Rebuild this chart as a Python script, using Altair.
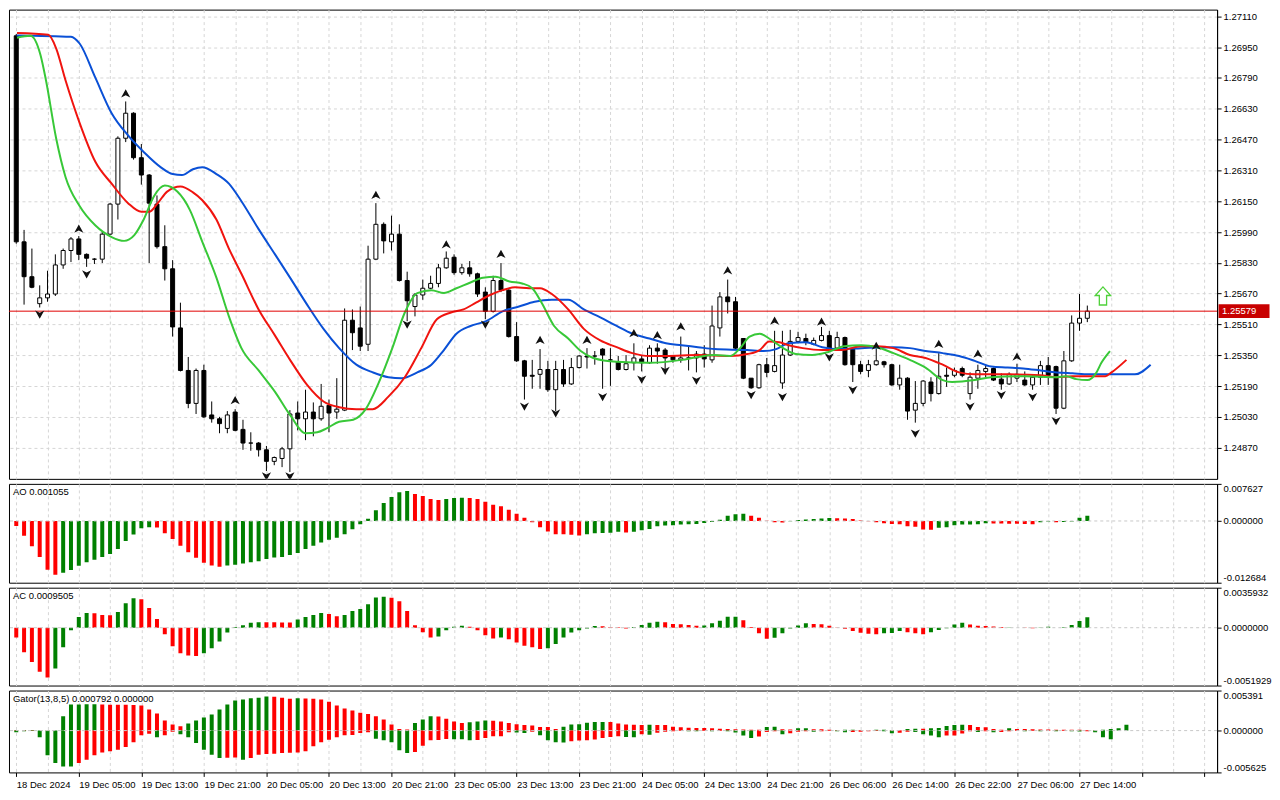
import json
import pandas as pd
import altair as alt

# ---------------- data ----------------
time_labels = ["18 Dec 2024", "19 Dec 05:00", "19 Dec 13:00", "19 Dec 21:00", "20 Dec 05:00",
               "20 Dec 13:00", "20 Dec 21:00", "23 Dec 05:00", "23 Dec 13:00", "23 Dec 21:00",
               "24 Dec 05:00", "24 Dec 13:00", "24 Dec 21:00", "26 Dec 06:00", "26 Dec 14:00",
               "26 Dec 22:00", "27 Dec 06:00", "27 Dec 14:00"]

opens = [1.27009, 1.25939, 1.25758, 1.25618, 1.25648, 1.25668, 1.25819, 1.25894, 1.25954, 1.25874,
         1.25849, 1.25849, 1.25979, 1.26135, 1.26477, 1.26607, 1.26376, 1.26286, 1.26135, 1.25914,
         1.25799, 1.25492, 1.25271, 1.25100, 1.25271, 1.25040, 1.25020, 1.24970, 1.25055, 1.24965,
         1.24894, 1.24894, 1.24859, 1.24799, 1.24814, 1.24864, 1.25050, 1.25020, 1.25055, 1.25020,
         1.25090, 1.25055, 1.25065, 1.25532, 1.25492, 1.25407, 1.25849, 1.26030, 1.25939, 1.25979,
         1.25738, 1.25603, 1.25663, 1.25698, 1.25723, 1.25804, 1.25859, 1.25779, 1.25804, 1.25773,
         1.25678, 1.25578, 1.25738, 1.25688, 1.25447, 1.25321, 1.25246, 1.25251, 1.25276, 1.25171,
         1.25276, 1.25201, 1.25286, 1.25346, 1.25346, 1.25382, 1.25326, 1.25316, 1.25276, 1.25311,
         1.25331, 1.25311, 1.25387, 1.25377, 1.25346, 1.25326, 1.25336, 1.25336, 1.25356, 1.25326,
         1.25492, 1.25653, 1.25628, 1.25437, 1.25231, 1.25181, 1.25301, 1.25266, 1.25206, 1.25351,
         1.25422, 1.25437, 1.25407, 1.25427, 1.25452, 1.25387, 1.25442, 1.25382, 1.25301, 1.25271,
         1.25301, 1.25316, 1.25301, 1.25196, 1.25231, 1.25065, 1.25100, 1.25211, 1.25151, 1.25246,
         1.25246, 1.25281, 1.25151, 1.25231, 1.25266, 1.25281, 1.25226, 1.25201, 1.25231, 1.25221,
         1.25196, 1.25236, 1.25296, 1.25291, 1.25075, 1.25321, 1.25517, 1.25542]
highs = [1.27019, 1.26001, 1.25904, 1.25713, 1.25789, 1.25874, 1.25904, 1.25964, 1.25969, 1.25879,
         1.25854, 1.25990, 1.26140, 1.26487, 1.26668, 1.26612, 1.26447, 1.26291, 1.26180, 1.26025,
         1.25844, 1.25623, 1.25341, 1.25281, 1.25301, 1.25110, 1.25030, 1.25060, 1.25070, 1.25015,
         1.24950, 1.24899, 1.24879, 1.24824, 1.24874, 1.25065, 1.25110, 1.25171, 1.25105, 1.25201,
         1.25120, 1.25231, 1.25593, 1.25588, 1.25603, 1.25919, 1.26140, 1.26040, 1.26075, 1.26030,
         1.25784, 1.25673, 1.25743, 1.25763, 1.25824, 1.25889, 1.25874, 1.25824, 1.25839, 1.25779,
         1.25703, 1.25763, 1.25829, 1.25693, 1.25522, 1.25326, 1.25326, 1.25382, 1.25321, 1.25321,
         1.25326, 1.25336, 1.25351, 1.25387, 1.25372, 1.25387, 1.25387, 1.25346, 1.25351, 1.25412,
         1.25346, 1.25402, 1.25412, 1.25387, 1.25351, 1.25447, 1.25402, 1.25372, 1.25402, 1.25608,
         1.25678, 1.25743, 1.25653, 1.25437, 1.25231, 1.25306, 1.25336, 1.25477, 1.25477, 1.25482,
         1.25472, 1.25462, 1.25442, 1.25497, 1.25477, 1.25472, 1.25447, 1.25387, 1.25321, 1.25326,
         1.25387, 1.25321, 1.25306, 1.25301, 1.25236, 1.25216, 1.25221, 1.25236, 1.25361, 1.25286,
         1.25286, 1.25291, 1.25261, 1.25301, 1.25296, 1.25286, 1.25256, 1.25261, 1.25306, 1.25266,
         1.25251, 1.25321, 1.25341, 1.25296, 1.25372, 1.25557, 1.25668, 1.25608]
lows = [1.25929, 1.25613, 1.25698, 1.25598, 1.25628, 1.25658, 1.25799, 1.25834, 1.25844, 1.25809,
        1.25824, 1.25829, 1.25974, 1.26055, 1.26457, 1.26366, 1.26236, 1.25829, 1.25904, 1.25738,
        1.25447, 1.25266, 1.25075, 1.25045, 1.25025, 1.25000, 1.24945, 1.24945, 1.24955, 1.24859,
        1.24854, 1.24824, 1.24749, 1.24779, 1.24769, 1.24744, 1.24960, 1.24909, 1.24929, 1.25010,
        1.24950, 1.25020, 1.25060, 1.25377, 1.25372, 1.25372, 1.25844, 1.25879, 1.25894, 1.25733,
        1.25527, 1.25552, 1.25638, 1.25693, 1.25703, 1.25799, 1.25768, 1.25768, 1.25758, 1.25653,
        1.25537, 1.25572, 1.25678, 1.25442, 1.25316, 1.25120, 1.25176, 1.25176, 1.25160, 1.25060,
        1.25186, 1.25196, 1.25281, 1.25281, 1.25301, 1.25176, 1.25191, 1.25271, 1.25271, 1.25271,
        1.25266, 1.25306, 1.25306, 1.25266, 1.25311, 1.25311, 1.25271, 1.25261, 1.25286, 1.25311,
        1.25447, 1.25567, 1.25382, 1.25226, 1.25176, 1.25176, 1.25236, 1.25261, 1.25176, 1.25346,
        1.25412, 1.25402, 1.25402, 1.25422, 1.25377, 1.25382, 1.25296, 1.25211, 1.25251, 1.25236,
        1.25296, 1.25286, 1.25191, 1.25171, 1.25015, 1.25000, 1.25085, 1.25110, 1.25146, 1.25186,
        1.25236, 1.25236, 1.25120, 1.25176, 1.25236, 1.25216, 1.25171, 1.25196, 1.25211, 1.25191,
        1.25171, 1.25196, 1.25196, 1.25045, 1.25070, 1.25316, 1.25477, 1.25522]
closes = [1.25939, 1.25758, 1.25703, 1.25648, 1.25668, 1.25819, 1.25894, 1.25954, 1.25874, 1.25854,
          1.25849, 1.25979, 1.26135, 1.26477, 1.26607, 1.26376, 1.26286, 1.26140, 1.25914, 1.25799,
          1.25497, 1.25271, 1.25100, 1.25271, 1.25030, 1.25020, 1.24995, 1.25040, 1.24960, 1.24894,
          1.24894, 1.24859, 1.24799, 1.24819, 1.24864, 1.25045, 1.25020, 1.25055, 1.25020, 1.25085,
          1.25050, 1.25070, 1.25532, 1.25467, 1.25397, 1.25849, 1.26030, 1.25944, 1.25979, 1.25738,
          1.25633, 1.25663, 1.25698, 1.25723, 1.25804, 1.25854, 1.25779, 1.25804, 1.25773, 1.25668,
          1.25578, 1.25738, 1.25688, 1.25447, 1.25321, 1.25241, 1.25241, 1.25276, 1.25171, 1.25276,
          1.25201, 1.25286, 1.25346, 1.25341, 1.25346, 1.25351, 1.25326, 1.25276, 1.25306, 1.25336,
          1.25311, 1.25387, 1.25372, 1.25336, 1.25326, 1.25336, 1.25336, 1.25356, 1.25331, 1.25502,
          1.25653, 1.25628, 1.25387, 1.25231, 1.25181, 1.25301, 1.25261, 1.25296, 1.25351, 1.25422,
          1.25442, 1.25417, 1.25427, 1.25452, 1.25387, 1.25442, 1.25301, 1.25301, 1.25266, 1.25301,
          1.25321, 1.25301, 1.25196, 1.25231, 1.25060, 1.25100, 1.25216, 1.25151, 1.25241, 1.25241,
          1.25271, 1.25246, 1.25236, 1.25271, 1.25281, 1.25221, 1.25201, 1.25251, 1.25251, 1.25196,
          1.25236, 1.25296, 1.25246, 1.25075, 1.25321, 1.25517, 1.25542, 1.25579]

last_price = 1.25579
last_price_text = "1.25579"
price_ticks = [1.24870, 1.25030, 1.25190, 1.25350, 1.25510, 1.25670, 1.25830, 1.25990,
               1.26150, 1.26310, 1.26470, 1.26630, 1.26790, 1.26950, 1.27110]

# Alligator (jaw / teeth / lips), read at sample bars
jaw_bar = [0.05, 7.0, 8.1, 10.1, 12.2, 14.3, 16.3, 18.5, 20.0, 21.2, 22.6, 23.8, 25.6, 27.2, 28.8,
           31.0, 33.1, 35.1, 37.2, 39.3, 41.3, 43.5, 45.6, 47.6, 49.3, 51.3, 53.1, 54.7, 56.3, 58.1,
           60.1, 62.2, 64.3, 66.3, 68.5, 70.6, 72.6, 74.7, 76.8, 78.8, 81.0, 83.1, 85.1, 87.2, 89.3,
           93.5, 95.6, 97.2, 98.8, 101.0, 103.1, 105.1, 108.1, 112.2, 114.3, 116.3, 118.5, 120.6,
           122.6, 124.7, 126.8, 128.8, 131.0, 133.1, 135.1, 137.2, 139.3, 141.3, 143.1, 145.1]
jaw_price = [1.27011, 1.27004, 1.26969, 1.26793, 1.26607, 1.26492, 1.26406, 1.26326, 1.26291, 1.26286,
             1.26316, 1.26326, 1.26291, 1.26241, 1.26150, 1.26005, 1.25874, 1.25748, 1.25613, 1.25487,
             1.25387, 1.25301, 1.25261, 1.25236, 1.25231, 1.25261, 1.25301, 1.25377, 1.25462, 1.25502,
             1.25527, 1.25578, 1.25603, 1.25628, 1.25638, 1.25638, 1.25588, 1.25547, 1.25502, 1.25462,
             1.25437, 1.25412, 1.25402, 1.25392, 1.25382, 1.25377, 1.25372, 1.25382, 1.25412, 1.25417,
             1.25392, 1.25382, 1.25387, 1.25392, 1.25387, 1.25372, 1.25361, 1.25346, 1.25321, 1.25291,
             1.25286, 1.25281, 1.25271, 1.25261, 1.25256, 1.25251, 1.25251, 1.25251, 1.25251, 1.25301]
teeth_bar = [0.1, 4.1, 5.1, 6.3, 8.1, 10.1, 12.2, 14.3, 16.0, 17.0, 18.1, 19.3, 21.0, 22.6, 23.8,
             25.6, 27.2, 28.8, 31.0, 33.1, 35.1, 37.2, 39.3, 41.3, 43.5, 45.6, 47.6, 49.7, 51.8, 53.8,
             55.6, 57.2, 58.8, 60.6, 62.2, 63.8, 65.6, 67.0, 68.5, 70.6, 72.6, 74.7, 76.8, 78.8, 81.0,
             83.1, 87.2, 91.3, 93.5, 95.1, 96.3, 97.6, 98.8, 100.6, 103.1, 105.6, 108.1, 110.1, 112.2,
             114.3, 116.3, 118.5, 120.6, 122.6, 126.8, 131.0, 133.1, 135.1, 139.3, 140.1, 142.0]
teeth_price = [1.27024, 1.27014, 1.26944, 1.26778, 1.26557, 1.26356, 1.26241, 1.26140, 1.26095, 1.26095,
               1.26140, 1.26200, 1.26226, 1.26196, 1.26155, 1.26055, 1.25904, 1.25773, 1.25588, 1.25452,
               1.25321, 1.25196, 1.25110, 1.25080, 1.25070, 1.25070, 1.25135, 1.25236, 1.25387, 1.25537,
               1.25572, 1.25588, 1.25623, 1.25663, 1.25688, 1.25703, 1.25698, 1.25698, 1.25668, 1.25588,
               1.25487, 1.25427, 1.25392, 1.25361, 1.25346, 1.25346, 1.25351, 1.25346, 1.25356, 1.25377,
               1.25422, 1.25417, 1.25402, 1.25387, 1.25377, 1.25377, 1.25397, 1.25397, 1.25387, 1.25351,
               1.25336, 1.25301, 1.25261, 1.25251, 1.25251, 1.25246, 1.25236, 1.25241, 1.25241, 1.25261,
               1.25326]
lips_bar = [0.1, 1.8, 3.1, 3.8, 5.1, 6.3, 8.1, 10.1, 12.2, 13.8, 15.1, 16.3, 17.6, 19.0, 20.6, 22.2,
            23.8, 25.6, 27.2, 28.8, 31.0, 33.1, 35.1, 37.0, 38.5, 39.7, 41.3, 43.1, 44.7, 46.3, 48.1,
            49.7, 51.3, 53.1, 54.7, 56.3, 58.1, 59.7, 61.3, 63.1, 64.7, 66.0, 67.2, 68.8, 70.6, 72.2,
            73.8, 76.8, 81.0, 85.1, 87.2, 89.3, 91.3, 92.6, 93.8, 95.1, 96.3, 98.1, 99.7, 101.8, 103.8,
            105.9, 108.1, 110.1, 112.2, 114.3, 116.3, 118.5, 119.7, 122.6, 124.7, 128.8, 133.1, 134.3,
            135.6, 137.0, 138.1, 138.8, 139.9]
lips_price = [1.26999, 1.27009, 1.26909, 1.26778, 1.26477, 1.26276, 1.26125, 1.26025, 1.25964, 1.25944,
              1.25974, 1.26055, 1.26175, 1.26231, 1.26200, 1.26105, 1.25939, 1.25753, 1.25552, 1.25387,
              1.25271, 1.25160, 1.25035, 1.24945, 1.24950, 1.24970, 1.25005, 1.25015, 1.25070, 1.25201,
              1.25387, 1.25572, 1.25673, 1.25688, 1.25673, 1.25698, 1.25728, 1.25753, 1.25758, 1.25733,
              1.25723, 1.25698, 1.25623, 1.25502, 1.25437, 1.25372, 1.25336, 1.25316, 1.25311, 1.25326,
              1.25341, 1.25351, 1.25346, 1.25387, 1.25447, 1.25462, 1.25437, 1.25387, 1.25356, 1.25351,
              1.25366, 1.25397, 1.25402, 1.25392, 1.25361, 1.25326, 1.25286, 1.25221, 1.25211, 1.25221,
              1.25236, 1.25241, 1.25236, 1.25241, 1.25226, 1.25221, 1.25256, 1.25311, 1.25372]

# Fractals
frac_up_bar = [8, 14, 28, 46, 55, 62, 67, 73, 79, 82, 85, 91, 97, 103, 110, 118, 123, 128]
frac_up_price = [1.26005, 1.26708, 1.25115, 1.26180, 1.25924, 1.25874, 1.25427, 1.25427, 1.25462,
                 1.25452, 1.25497, 1.25789, 1.25527, 1.25522, 1.25397, 1.25407, 1.25356, 1.25341]
frac_dn_bar = [3, 9, 32, 35, 50, 60, 65, 69, 75, 80, 83, 87, 94, 98, 104, 107, 115, 122, 126, 130, 133]
frac_dn_price = [1.25563, 1.25773, 1.24723, 1.24723, 1.25512, 1.25512, 1.25085, 1.25050, 1.25135,
                 1.25226, 1.25271, 1.25221, 1.25145, 1.25135, 1.25341, 1.25171, 1.24945, 1.25085,
                 1.25145, 1.25135, 1.25010]
signal_bar = [139]
signal_price = [1.25658]

# Awesome Oscillator
ao_values = [-0.00102, -0.00305, -0.00521, -0.00738, -0.01002, -0.01104, -0.01063, -0.01009, -0.00921, -0.00846,
             -0.00799, -0.00738, -0.00677, -0.00575, -0.00413, -0.00278, -0.00149, -0.00129, -0.00132, -0.00250,
             -0.00372, -0.00508, -0.00643, -0.00758, -0.00860, -0.00914, -0.00941, -0.00914, -0.00900, -0.00873,
             -0.00846, -0.00826, -0.00779, -0.00751, -0.00738, -0.00697, -0.00657, -0.00575, -0.00508, -0.00440,
             -0.00386, -0.00345, -0.00271, -0.00169, -0.00068, 0.00047, 0.00223, 0.00372, 0.00494, 0.00589,
             0.00616, 0.00555, 0.00515, 0.00454, 0.00433, 0.00454, 0.00470, 0.00475, 0.00473, 0.00454,
             0.00393, 0.00332, 0.00305, 0.00230, 0.00149, 0.00068, -0.00027, -0.00129, -0.00217, -0.00271,
             -0.00275, -0.00284, -0.00298, -0.00271, -0.00250, -0.00248, -0.00244, -0.00223, -0.00237, -0.00223,
             -0.00190, -0.00165, -0.00107, -0.00093, -0.00090, -0.00073, -0.00067, -0.00060, -0.00040, -0.00020,
             0.00027, 0.00107, 0.00140, 0.00147, 0.00107, 0.00067, 0.00007, -0.00027, -0.00030, -0.00005,
             0.00020, 0.00033, 0.00040, 0.00053, 0.00060, 0.00058, 0.00053, 0.00040, 0.00010, -0.00007,
             -0.00027, -0.00047, -0.00060, -0.00067, -0.00107, -0.00120, -0.00173, -0.00178, -0.00140, -0.00127,
             -0.00087, -0.00073, -0.00070, -0.00067, -0.00047, -0.00050, -0.00052, -0.00055, -0.00058, -0.00062,
             -0.00067, -0.00027, -0.00013, -0.00027, -0.00020, -0.00013, 0.00067, 0.001055]
ao_colors = ("rrrrrrgggg" "ggggggggrr" "rrrrrrrggg" "gggggggggg" "gggggggggg" "grrrrgggrr" "rrrrrrrrrr"
             "rrrgggggrg" "gggggggggg" "ggggrrrrrg" "gggggrrrrr" "rrrrrrrrgg" "gggggrrrrr" "rggrgggg")

# Accelerator Oscillator
ac_values = [-0.00088, -0.00220, -0.00308, -0.00396, -0.00448, -0.00366, -0.00176, -0.00023, 0.00097, 0.00132,
             0.00130, 0.00114, 0.00112, 0.00141, 0.00220, 0.00264, 0.00255, 0.00176, 0.00079, -0.00059,
             -0.00167, -0.00229, -0.00249, -0.00255, -0.00229, -0.00185, -0.00123, -0.00044, 0.00006, 0.00023,
             0.00044, 0.00050, 0.00049, 0.00048, 0.00047, 0.00046, 0.00073, 0.00097, 0.00114, 0.00132,
             0.00123, 0.00103, 0.00114, 0.00149, 0.00167, 0.00211, 0.00272, 0.00278, 0.00270, 0.00237,
             0.00149, 0.00023, -0.00041, -0.00088, -0.00079, -0.00023, 0.00009, 0.00018, 0.00009, -0.00023,
             -0.00067, -0.00097, -0.00088, -0.00103, -0.00132, -0.00161, -0.00176, -0.00190, -0.00185, -0.00147,
             -0.00088, -0.00044, -0.00023, -0.00006, 0.00015, 0.00013, 0.00006, 0.00004, -0.00006, 0.00006,
             0.00025, 0.00044, 0.00053, 0.00048, 0.00033, 0.00032, 0.00024, 0.00018, 0.00021, 0.00039,
             0.00062, 0.00098, 0.00099, 0.00068, 0.00006, -0.00050, -0.00098, -0.00089, -0.00050, -0.00006,
             0.00021, 0.00039, 0.00033, 0.00032, 0.00018, 0.00002, -0.00009, -0.00030, -0.00045, -0.00055,
             -0.00058, -0.00050, -0.00048, -0.00030, -0.00040, -0.00050, -0.00058, -0.00040, -0.00020, -0.00005,
             0.00030, 0.00045, 0.00030, 0.00018, 0.00015, 0.00010, 0.00006, 0.00003, 0.00000, -0.00003,
             -0.00005, 0.00002, 0.00008, 0.00000, 0.00004, 0.00025, 0.00060, 0.00095]
ac_colors = ("rrrrrggggg" "rrrgggrrrr" "rrrrgggggg" "ggrrrrgggg" "rrggggggrr" "rrrrggggrr" "rrgrrrrrgg"
             "gggggrrrrg" "gggrrrrrgg" "gggrrrrggg" "ggrrrrrrrr" "rgggrrrggg" "ggrrrrrgrr" "rggrgggg")

# Gator oscillator (upper histogram runs 5 bars ahead, lower 3 bars ahead)
gator_up = [0.00009, 0.00009, 0.00009, 0.0, 0.00005, 0.0, 0.00194, 0.00351, 0.00352, 0.00353,
            0.00354, 0.00350, 0.00349, 0.00348, 0.00347, 0.00346, 0.00338, 0.00284, 0.00230, 0.00135,
            0.00081, 0.00059, 0.00095, 0.00135, 0.00176, 0.00216, 0.00284, 0.00351, 0.00405, 0.00419,
            0.00437, 0.00441, 0.00459, 0.00455, 0.00441, 0.00430, 0.00436, 0.00432, 0.00430, 0.00419,
            0.00387, 0.00338, 0.00297, 0.00270, 0.00239, 0.00225, 0.00194, 0.00149, 0.00081, 0.00023,
            0.00014, 0.00104, 0.00149, 0.00194, 0.00190, 0.00158, 0.00122, 0.00104, 0.00113, 0.00122,
            0.00135, 0.00133, 0.00122, 0.00104, 0.00086, 0.00077, 0.00068, 0.00050, 0.00048, 0.00023,
            0.00052, 0.00082, 0.00086, 0.00107, 0.00116, 0.00117, 0.00116, 0.00095, 0.00082, 0.00080,
            0.00075, 0.00078, 0.00075, 0.00074, 0.00053, 0.00044, 0.00040, 0.00035, 0.00034, 0.00031,
            0.00026, 0.00022, 0.00018, 0.00015, 0.00012, 0.00010, 0.00049, 0.00052, 0.00018, 0.00015,
            0.00030, 0.00032, 0.00018, 0.00017, 0.00010, 0.00008, 0.00010, 0.00012, 0.00008, 0.00005,
            0.00010, 0.00012, 0.00008, 0.00006, 0.00022, 0.00026, 0.00025, 0.00030, 0.00035, 0.00062,
            0.00075, 0.00080, 0.00075, 0.00049, 0.00044, 0.00020, 0.00010, 0.00030, 0.00022, 0.00020,
            0.00018, 0.00015, 0.00014, 0.00013, 0.00012, 0.00011, 0.00010, 0.00008, 0.00005, 0.00010,
            0.00022, 0.00031, 0.00079]
gator_up_colors = ("rrrrrrgggg" "grrrrrrrrr" "rrgggggggg" "gggrrrgrrr" "rrrrrrrrrr" "rgggrrrrgg" "grrrrrrrrr"
                   "ggggggrrrr" "rgrrrrrrrr" "rrrrrrggrr" "ggrrrrggrr" "ggrrggrggg" "ggrrrrrgrr" "rrrrrrrrrg"
                   "ggg")
gator_dn = [-0.00023, -0.00009, -0.00005, -0.00090, -0.00333, -0.00437, -0.00482, -0.00484, -0.00437, -0.00392,
            -0.00333, -0.00293, -0.00279, -0.00257, -0.00221, -0.00158, -0.00063, -0.00041, -0.00090, -0.00063,
            -0.00014, -0.00050, -0.00090, -0.00167, -0.00257, -0.00324, -0.00369, -0.00365, -0.00362, -0.00392,
            -0.00369, -0.00324, -0.00315, -0.00310, -0.00302, -0.00298, -0.00293, -0.00279, -0.00212, -0.00158,
            -0.00122, -0.00090, -0.00063, -0.00060, -0.00032, -0.00023, -0.00108, -0.00131, -0.00158, -0.00266,
            -0.00302, -0.00288, -0.00203, -0.00131, -0.00128, -0.00113, -0.00115, -0.00117, -0.00131, -0.00128,
            -0.00099, -0.00077, -0.00075, -0.00023, -0.00025, -0.00032, -0.00014, -0.00063, -0.00131, -0.00158,
            -0.00160, -0.00142, -0.00133, -0.00130, -0.00120, -0.00099, -0.00086, -0.00077, -0.00086, -0.00090,
            -0.00050, -0.00055, -0.00030, -0.00015, -0.00008, -0.00005, -0.00008, -0.00010, -0.00005, -0.00008,
            -0.00005, -0.00010, -0.00026, -0.00066, -0.00101, -0.00079, -0.00020, -0.00010, -0.00049, -0.00035,
            -0.00015, -0.00010, -0.00015, -0.00008, -0.00005, -0.00010, -0.00022, -0.00018, -0.00015, -0.00010,
            -0.00005, -0.00010, -0.00035, -0.00030, -0.00015, -0.00018, -0.00049, -0.00066, -0.00088, -0.00066,
            -0.00066, -0.00040, -0.00010, -0.00020, -0.00010, -0.00022, -0.00018, -0.00010, -0.00005, -0.00008,
            -0.00005, -0.00008, -0.00005, -0.00008, -0.00005, -0.00008, -0.00012, -0.00010, -0.00022, -0.00088,
            -0.00115]
gator_dn_colors = ("ggggggggrr" "rrrrrrrrgr" "rggggggrrg" "rrrrrrrrrr" "rrrrrrgggg" "grrrrrgggr" "rrrrggrggg"
                   "grrrrrrrgg" "rgrrrrggrg" "rggggrrrgr" "rrgrrggrrr" "rggrrggggr" "rrrgrgrrrg" "rgrgrggrgg"
                   "g")

# ---------------- chart ----------------
FONT = "Liberation Sans"
FS = 9.5
W = 1210
XS = alt.Scale(domain=[-0.29, 152.96], nice=False, zero=False)
GRID_X = list(range(0, 153, 4))
GREEN, RED = "#008000", "#ff0000"
COL_SCALE = alt.Scale(domain=["g", "r"], range=[GREEN, RED])
MINUS_FIX = "'\u2212', '-'"

x_hidden = alt.Axis(values=GRID_X, labels=False, ticks=False, domain=False, grid=True, title=None)
label_expr = "datum.value % 8 == 0 ? " + json.dumps(time_labels) + "[datum.value / 8] : ''"
x_bottom = alt.Axis(values=GRID_X, labelExpr=label_expr, labelAlign="left", labelPadding=3,
                    labelOverlap=False, labelFlush=False, tickSize=4,
                    tickColor={"condition": {"test": "datum.value % 8 == 0", "value": "black"},
                               "value": "transparent"},
                    grid=True, domain=False, title=None)


def X(axis=x_hidden):
    return alt.X("i:Q", scale=XS, axis=axis)


# main price panel
YS = alt.Scale(domain=[1.24708, 1.27145], nice=False, zero=False)
y_axis = alt.Axis(orient="right", values=price_ticks, format=".5f", grid=True, tickSize=4,
                  title=None, labelPadding=2)


def Y(field):
    return alt.Y(field, scale=YS, axis=y_axis)


candles = pd.DataFrame({"i": list(range(len(closes))), "o": opens, "h": highs, "l": lows, "c": closes})
wick = alt.Chart(candles).mark_rule(color="black", strokeWidth=1, clip=True).encode(
    x=X(), y=Y("l:Q"), y2="h:Q")
body = alt.Chart(candles).mark_bar(size=4, stroke="black", strokeWidth=1, clip=True).encode(
    x=X(), y=Y("o:Q"), y2="c:Q",
    fill=alt.condition("datum.c >= datum.o", alt.value("white"), alt.value("black")))


def gline(bars, prices, color):
    df = pd.DataFrame({"i": bars, "p": prices})
    return alt.Chart(df).mark_line(color=color, strokeWidth=2, interpolate="monotone", clip=True).encode(
        x=X(), y=Y("p:Q"))


jaw = gline(jaw_bar, jaw_price, "#0a50d6")
teeth = gline(teeth_bar, teeth_price, "#f0140f")
lips = gline(lips_bar, lips_price, "#38c838")

price_df = pd.DataFrame({"p": [last_price], "t": [last_price_text]})
price_rule = alt.Chart(price_df).mark_rule(color="#e00000", strokeWidth=1).encode(y=Y("p:Q"))

UP = "M0,-1L1,0.8L0,0.3L-1,0.8Z"
DN = "M0,1L1,-0.8L0,-0.3L-1,-0.8Z"
fr_up = alt.Chart(pd.DataFrame({"i": frac_up_bar, "p": frac_up_price})).mark_point(
    shape=UP, filled=True, color="#111111", size=84, opacity=1, clip=True).encode(x=X(), y=Y("p:Q"))
fr_dn = alt.Chart(pd.DataFrame({"i": frac_dn_bar, "p": frac_dn_price})).mark_point(
    shape=DN, filled=True, color="#111111", size=84, opacity=1, clip=True).encode(x=X(), y=Y("p:Q"))

ARROW = "M0,-1L0.85,-0.05L0.4,-0.05L0.4,1L-0.4,1L-0.4,-0.05L-0.85,-0.05Z"
signal = alt.Chart(pd.DataFrame({"i": signal_bar, "p": signal_price})).mark_point(
    shape=ARROW, filled=True, fill="white", stroke="#4fd13a", strokeWidth=1.3, size=330, opacity=1
).encode(x=X(), y=Y("p:Q"))

BOX = "M-1,-0.27L1,-0.27L1,0.27L-1,0.27Z"
price_box = alt.Chart(price_df).mark_point(
    shape=BOX, filled=True, color="#c80000", size=2601, opacity=1, strokeWidth=0, clip=False
).encode(x=alt.value(W + 27), y=Y("p:Q"))
price_txt = alt.Chart(price_df).mark_text(
    align="left", baseline="middle", color="white", font=FONT, fontSize=FS, clip=False
).encode(x=alt.value(W + 5), y=Y("p:Q"), text="t:N")

main = alt.layer(wick, body, jaw, teeth, lips, price_rule, fr_up, fr_dn, signal, price_box, price_txt
                 ).properties(width=W, height=470)


def osc_panel(series, header, lo, hi, fmt, height, xaxis=x_hidden):
    ys = alt.Scale(domain=[lo, hi], nice=False, zero=False)
    yax = alt.Axis(orient="right", values=[lo, 0.0, hi],
                   labelExpr="replace(format(datum.value, '" + fmt + "'), " + MINUS_FIX + ")",
                   labelFlush=True, grid=False, tickSize=4, title=None, labelPadding=2)
    layers = []
    zero_df = pd.DataFrame({"z": [0.0]})
    for vals, cols in series:
        df = pd.DataFrame({"i": list(range(len(vals))), "v": vals, "k": list(cols)[:len(vals)]})
        layers.append(alt.Chart(df).mark_bar(size=4, clip=True).encode(
            x=X(xaxis), y=alt.Y("v:Q", scale=ys, axis=yax), y2=alt.datum(0),
            color=alt.Color("k:N", scale=COL_SCALE, legend=None)))
    layers.append(alt.Chart(zero_df).mark_rule(color="#c8c8c8", strokeDash=[3, 3], strokeWidth=1).encode(
        y=alt.Y("z:Q", scale=ys, axis=yax)))
    hdr = alt.Chart(pd.DataFrame({"t": [header]})).mark_text(
        align="left", baseline="middle", font=FONT, fontSize=FS, color="black"
    ).encode(x=alt.value(4), y=alt.value(8), text="t:N")
    layers.append(hdr)
    return alt.layer(*layers).properties(width=W, height=height)


ao = osc_panel([(ao_values, ao_colors)], "AO 0.001055", -0.012684, 0.007627, ".6f", 99)
ac = osc_panel([(ac_values, ac_colors)], "AC 0.0009505", -0.0051929, 0.0035932, ".7f", 98)
gator = osc_panel([(gator_up, gator_up_colors), (gator_dn, gator_dn_colors)],
                  "Gator(13,8,5) 0.000792 0.000000", -0.005625, 0.005391, ".6f", 82, xaxis=x_bottom)

chart = alt.vconcat(main, ao, ac, gator, spacing=3).properties(
    padding={"left": 0, "top": 0, "right": 0, "bottom": 0}, background="white"
).configure_view(stroke="black", strokeWidth=1).configure_axis(
    labelFont=FONT, labelFontSize=FS, labelColor="black", tickColor="black", domainColor="black",
    gridColor="#d6d6d6", gridDash=[3, 3], gridWidth=1
)

chart.save("out.html", embed_options={"renderer": "svg", "actions": False})
